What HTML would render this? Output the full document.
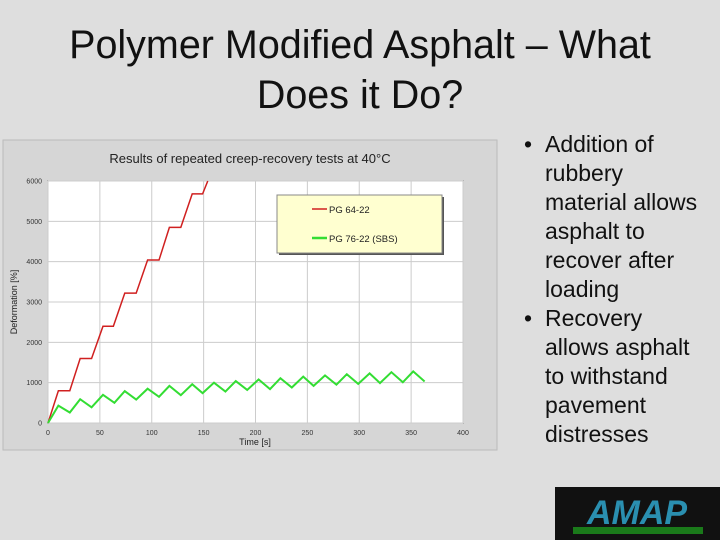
<!DOCTYPE html>
<html><head><meta charset="utf-8"><style>
body{margin:0;width:720px;height:540px;background:#dedede;font-family:"Liberation Sans",sans-serif;overflow:hidden;position:relative}
.t{position:absolute;left:0;width:720px;text-align:center;font-size:39.5px;line-height:46px;color:#111}
ul{position:absolute;left:518px;top:130px;margin:0;padding:0;list-style:none;font-size:23px;line-height:29px;color:#111;width:192px}
li{position:relative;padding-left:27px}
li:before{content:"•";position:absolute;left:6px}
</style></head><body>
<div class="t" style="top:22px">Polymer Modified Asphalt – What</div>
<div class="t" style="top:72px">Does it Do?</div>
<ul>
<li>Addition of rubbery material allows asphalt to recover after loading</li>
<li>Recovery allows asphalt to withstand pavement distresses</li>
</ul>
<svg width="720" height="540" style="position:absolute;left:0;top:0" id="svg">
<rect x="3" y="140" width="494" height="310" fill="#d6d6d6" stroke="#bbb"/>
<text x="250" y="163" text-anchor="middle" font-size="13" fill="#222">Results of repeated creep-recovery tests at 40°C</text>
<rect x="48" y="181" width="415" height="242" fill="#fff" stroke="#555"/>
<g id="grid"></g><g id="marks"></g>
<text x="255" y="445" text-anchor="middle" font-size="9" fill="#222">Time [s]</text>
<text transform="translate(17,302) rotate(-90)" text-anchor="middle" font-size="9" fill="#222">Deformation [%]</text>
<rect x="279" y="197" width="165" height="58" fill="#555"/>
<rect x="277" y="195" width="165" height="58" fill="#ffffd0" stroke="#888"/>
<line x1="312" y1="209" x2="327" y2="209" stroke="#d02020" stroke-width="1.5"/>
<text x="329" y="213" font-size="9.5" fill="#222">PG 64-22</text>
<line x1="312" y1="238" x2="327" y2="238" stroke="#33dd33" stroke-width="2.5"/>
<text x="329" y="242" font-size="9.5" fill="#222">PG 76-22 (SBS)</text>
<g>
<rect x="555" y="487" width="165" height="53" fill="#111"/>
<text x="637" y="524" text-anchor="middle" font-size="34" font-weight="bold" font-style="italic" fill="#2a8fb0">AMAP</text>
<rect x="573" y="527" width="130" height="7" fill="#1a7a1a"/>
</g>
</svg>
<script>
const xTicks=[0,50,100,150,200,250,300,350,400];
const yTicks=[0,1000,2000,3000,4000,5000,6000];
const redT=[0,10,21,31,42,53,63,74,85,96,107,117,128,139,149,154];
const redV=[0,800,800,1600,1600,2400,2400,3220,3220,4040,4040,4850,4850,5680,5680,6000];
const greenT=[0,10,21,31,42,53,64,74,85,96,107,117,128,139,149,160,171,181,192,203,214,224,235,246,256,267,278,288,299,310,320,331,342,352,363];
const greenV=[0,430,260,590,390,700,500,790,580,850,650,920,690,960,740,1000,780,1040,820,1080,840,1110,880,1150,920,1180,950,1210,970,1230,990,1260,1010,1280,1030];
const X=v=>48+v/400*415, Y=v=>423-v/6000*242;
const ns="http://www.w3.org/2000/svg";
const grid=document.getElementById('grid'),marks=document.getElementById('marks');
function mk(tag,attrs,parent){const e=document.createElementNS(ns,tag);for(const k in attrs)e.setAttribute(k,attrs[k]);parent.appendChild(e);return e;}
xTicks.forEach(t=>{
 const l=mk('line',{x1:X(t),x2:X(t),y1:181,y2:423,stroke:'#ccc'},grid);
 
 
 const tx=mk('text',{x:X(t),y:435,'text-anchor':'middle','font-size':7,fill:'#333'},grid);
 tx.textContent=t;
 
 
});
yTicks.forEach(t=>{
 const l=mk('line',{x1:48,x2:463,y1:Y(t),y2:Y(t),stroke:'#ccc'},grid);
 
 
 const tx=mk('text',{x:42,y:Y(t)+2.5,'text-anchor':'end','font-size':7,fill:'#333'},grid);
 tx.textContent=t;
 
 
});
const r=mk('polyline',{points:redT.map((t,i)=>X(t)+','+Y(redV[i])).join(' '),fill:'none',stroke:'#d02020','stroke-width':1.5},marks);


const g=mk('polyline',{points:greenT.map((t,i)=>X(t)+','+Y(greenV[i])).join(' '),fill:'none',stroke:'#33dd33','stroke-width':2},marks);


</script>
</body></html>
